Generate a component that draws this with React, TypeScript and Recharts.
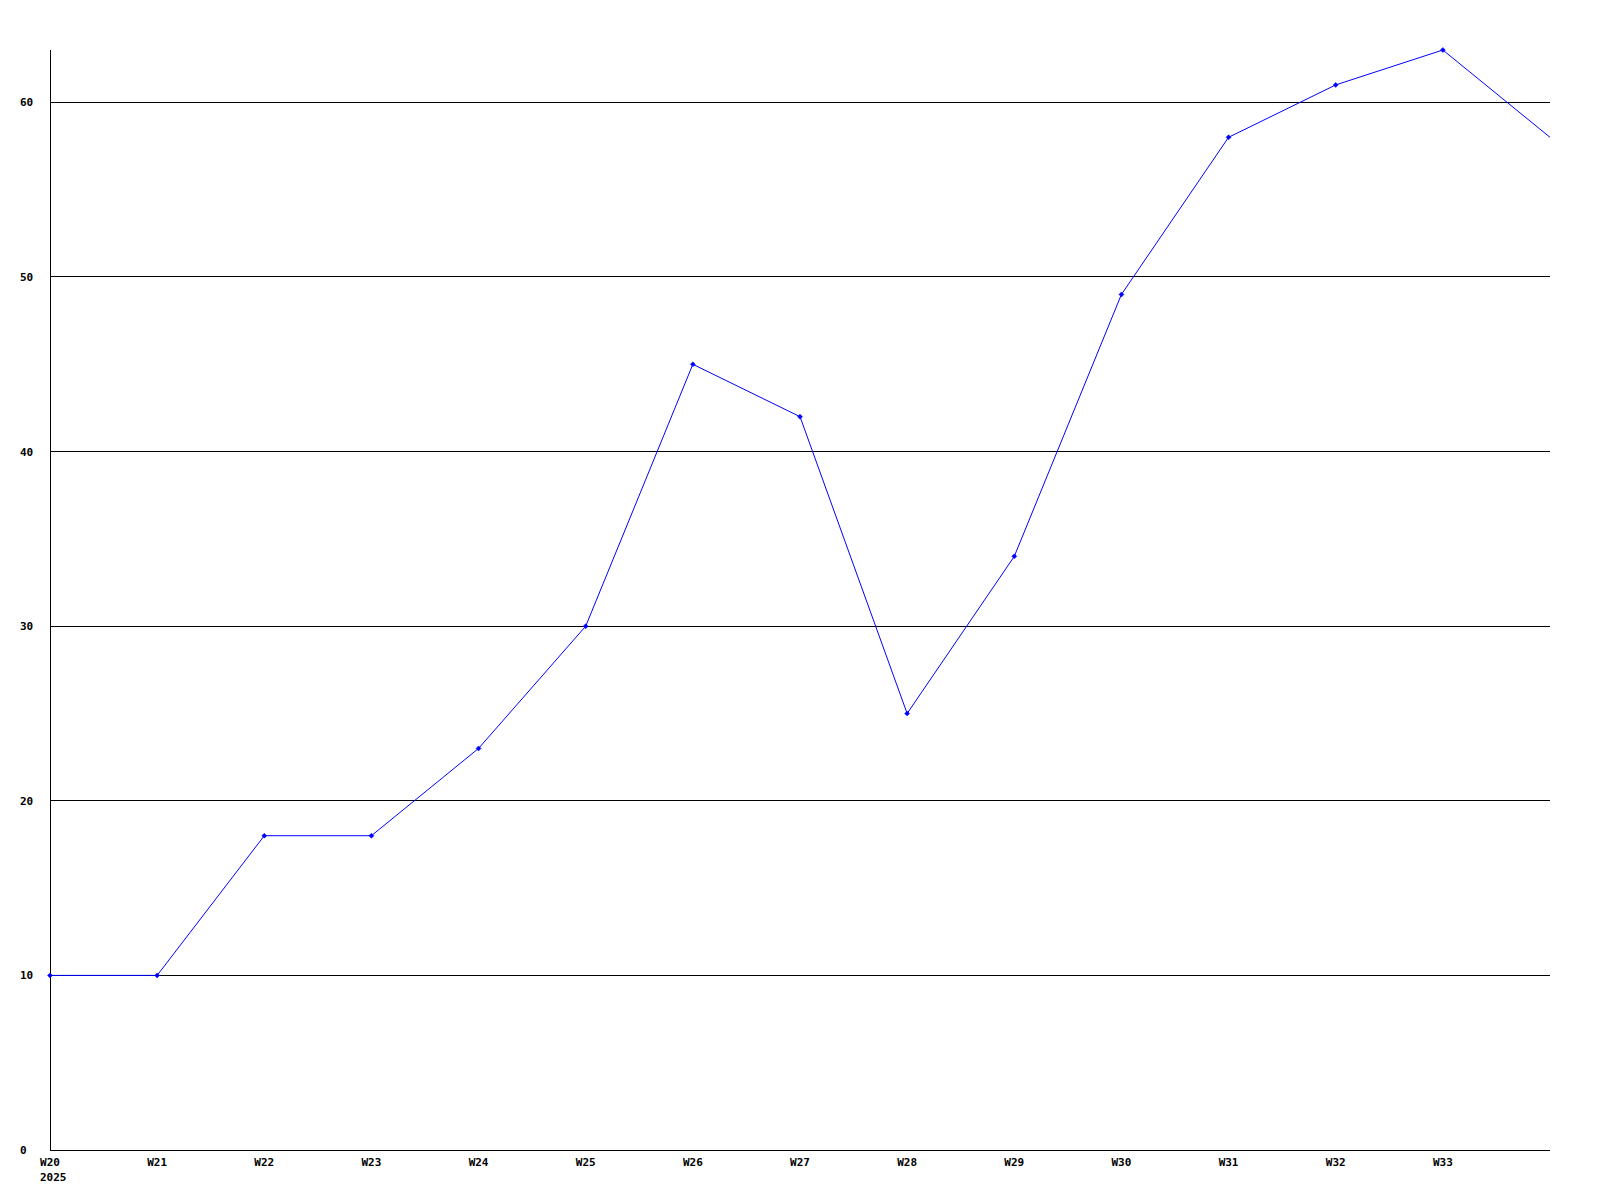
import { Line, LineChart, ReferenceLine, XAxis, YAxis } from "recharts";

const weeks = [
  "W20", "W21", "W22", "W23", "W24", "W25", "W26", "W27",
  "W28", "W29", "W30", "W31", "W32", "W33", "W34",
];
const counts = [10, 10, 18, 18, 23, 30, 45, 42, 25, 34, 49, 58, 61, 63, 58];
const yTicks = [0, 10, 20, 30, 40, 50, 60];
const firstYear = "2025";

const data = weeks.map((week, i) => ({ week, count: counts[i] }));

const font = "'DejaVu Sans Mono', 'Liberation Mono', monospace";

function XTick(props: any) {
  const { x, y, payload, index } = props;
  if (index === weeks.length - 1) return null;
  return (
    <g>
      <text x={x} y={y + 16} textAnchor="middle" fontFamily={font} fontSize={11} fontWeight="bold" fill="#000">
        {payload.value}
      </text>
      {index === 0 && (
        <text x={x - 10} y={y + 31} textAnchor="start" fontFamily={font} fontSize={11} fontWeight="bold" fill="#000">
          {firstYear}
        </text>
      )}
    </g>
  );
}

function YTick(props: any) {
  const { y, payload } = props;
  return (
    <text x={20} y={y + 4} textAnchor="start" fontFamily={font} fontSize={11} fontWeight="bold" fill="#000">
      {payload.value}
    </text>
  );
}

function Marker(props: any) {
  const { cx, cy, index } = props;
  if (index === weeks.length - 1) return <g key={index} />;
  return (
    <path
      key={index}
      d={`M${cx - 2.5},${cy} L${cx},${cy - 2.5} L${cx + 2.5},${cy} L${cx},${cy + 2.5} Z`}
      fill="#0000ff"
      stroke="#0000ff"
      strokeWidth={0.5}
    />
  );
}

export default function App() {
  return (
    <div style={{ position: "absolute", left: 0, top: 0, width: 1600, height: 1200, background: "#fff" }}>
      <LineChart width={1600} height={1200} data={data} margin={{ top: 50, right: 50, bottom: 0, left: 0 }}>
        {yTicks.slice(1).map((v) => (
          <ReferenceLine key={v} y={v} stroke="#000" strokeWidth={1} shapeRendering="crispEdges" />
        ))}
        <XAxis
          dataKey="week"
          height={50}
          tickLine={false}
          tickSize={0}
          tickMargin={0}
          interval={0}
          axisLine={{ stroke: "#000", strokeWidth: 1, shapeRendering: "crispEdges" }}
          tick={<XTick />}
        />
        <YAxis
          width={50}
          domain={[0, 63]}
          ticks={yTicks}
          tickLine={false}
          tickSize={0}
          tickMargin={0}
          axisLine={{ stroke: "#000", strokeWidth: 1, shapeRendering: "crispEdges" }}
          tick={<YTick />}
        />
        <Line
          type="linear"
          dataKey="count"
          stroke="#0000ff"
          strokeWidth={1}
          dot={<Marker />}
          activeDot={false}
          isAnimationActive={false}
        />
      </LineChart>
    </div>
  );
}
